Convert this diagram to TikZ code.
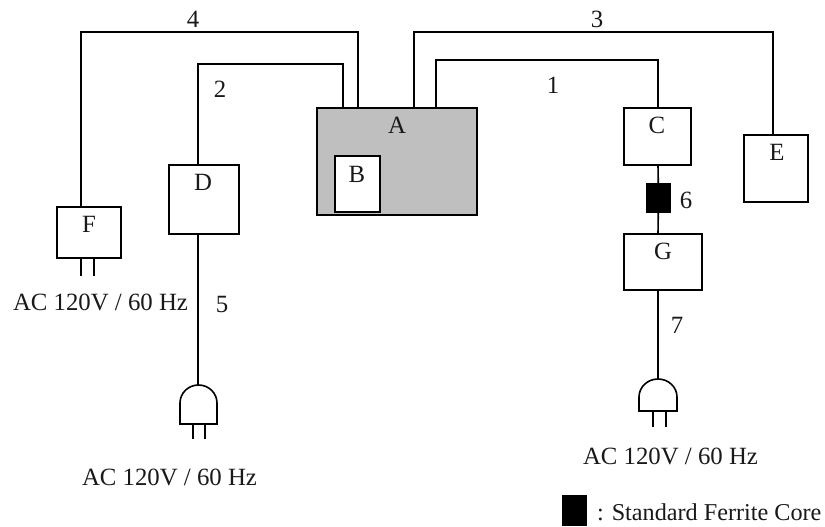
\documentclass[tikz,border=0pt]{standalone}
\usepackage{fontspec}
\setmainfont{Liberation Serif}
\tikzset{
  wire/.style={line width=1.6pt,line cap=butt,line join=miter},
  boxn/.style={draw,line width=1.6pt,fill=white,rectangle,inner sep=0pt,outer sep=0pt,anchor=north west},
  txt/.style={inner sep=0pt,outer sep=0pt,anchor=base,font=\fontsize{24.8}{26}\selectfont,text=black!90},
  txtl/.style={txt,anchor=base west},
  core/.style={fill=black,draw=none,rectangle,inner sep=0pt,outer sep=0pt,anchor=north west},
}
\begin{document}
\begin{tikzpicture}[x=1pt,y=-1pt]
\useasboundingbox (0,0) rectangle (825,527);
% boxes
\node[boxn,fill=black!25,minimum width=160pt,minimum height=107pt] (A) at (317,108) {};
\node[boxn,minimum width=45pt,minimum height=56pt] (B) at (335,156) {};
\node[boxn,minimum width=67pt,minimum height=57pt] (C) at (624,108) {};
\node[boxn,minimum width=70pt,minimum height=69pt] (D) at (169,165) {};
\node[boxn,minimum width=64pt,minimum height=67pt] (E) at (744,135) {};
\node[boxn,minimum width=64pt,minimum height=51pt] (F) at (57,207) {};
\node[boxn,minimum width=78pt,minimum height=56pt] (G) at (624,234) {};
\node[core,minimum width=25pt,minimum height=30pt] (core1) at (646,183) {};
\node[core,minimum width=25pt,minimum height=31pt] (core2) at (562,495) {};
% connector end points
\coordinate (a4) at (358,108);
\coordinate (a2) at (343,108);
\coordinate (a3) at (414,108);
\coordinate (a1) at (436,108);
\coordinate (f4) at (81,207);
\coordinate (d2) at (198,165);
\coordinate (d5) at (198,234);
\coordinate (e3) at (773,135);
\coordinate (c1) at (658,108);
\coordinate (c6) at (658,165);
\coordinate (g6) at (658,234);
\coordinate (g7) at (658,290);
\coordinate (p5) at (198,385);
\coordinate (p7) at (658,379);
% cables
\draw[wire] (a4) |- (200,32) -| (f4);
\draw[wire] (a2) |- (250,64) -| (d2);
\draw[wire] (a3) |- (600,32) -| (e3);
\draw[wire] (a1) |- (550,60) -| (c1);
\draw[wire] (d5) -- (p5);
\draw[wire] (c6) -- (core1);
\draw[wire] (core1) -- (g6);
\draw[wire] (g7) -- (p7);
% plug of F
\draw[wire] (81,258) -- (81,276);
\draw[wire] (94,258) -- (94,276);
% plug on cable 5
\draw[wire] (180,424) -- (180,403) arc[start angle=180,end angle=0,x radius=18.5,y radius=-18] -- (217,424) -- cycle;
\draw[wire] (193,424) -- (193,439);
\draw[wire] (205,424) -- (205,439);
% plug on cable 7
\draw[wire] (639,411) -- (639,397) arc[start angle=180,end angle=0,x radius=19,y radius=-18] -- (677,411) -- cycle;
\draw[wire] (653,411) -- (653,427);
\draw[wire] (666,411) -- (666,427);
% labels
\node[txt] (tA) at (397,133) {A};
\node[txt] (tB) at (357,182) {B};
\node[txt] (tC) at (657,133) {C};
\node[txt] (tD) at (203,190) {D};
\node[txt] (tE) at (777,160) {E};
\node[txt] (tF) at (89,232) {F};
\node[txt] (tG) at (663,259) {G};
\node[txt] (n1) at (553,93) {1};
\node[txt] (n2) at (220,98) {2};
\node[txt] (n3) at (597,28) {3};
\node[txt] (n4) at (193,28) {4};
\node[txt] (n5) at (222,312) {5};
\node[txt] (n6) at (686,208) {6};
\node[txt] (n7) at (677,333) {7};
\node[txtl] (ac1) at (13,310) {AC 120V / 60 Hz};
\node[txtl] (ac2) at (82,485) {AC 120V / 60 Hz};
\node[txtl] (ac3) at (583,464) {AC 120V / 60 Hz};
\node[txtl,font=\fontsize{24.2}{26}\selectfont] (leg) at (597,520) {: Standard Ferrite Core};
\end{tikzpicture}
\end{document}
